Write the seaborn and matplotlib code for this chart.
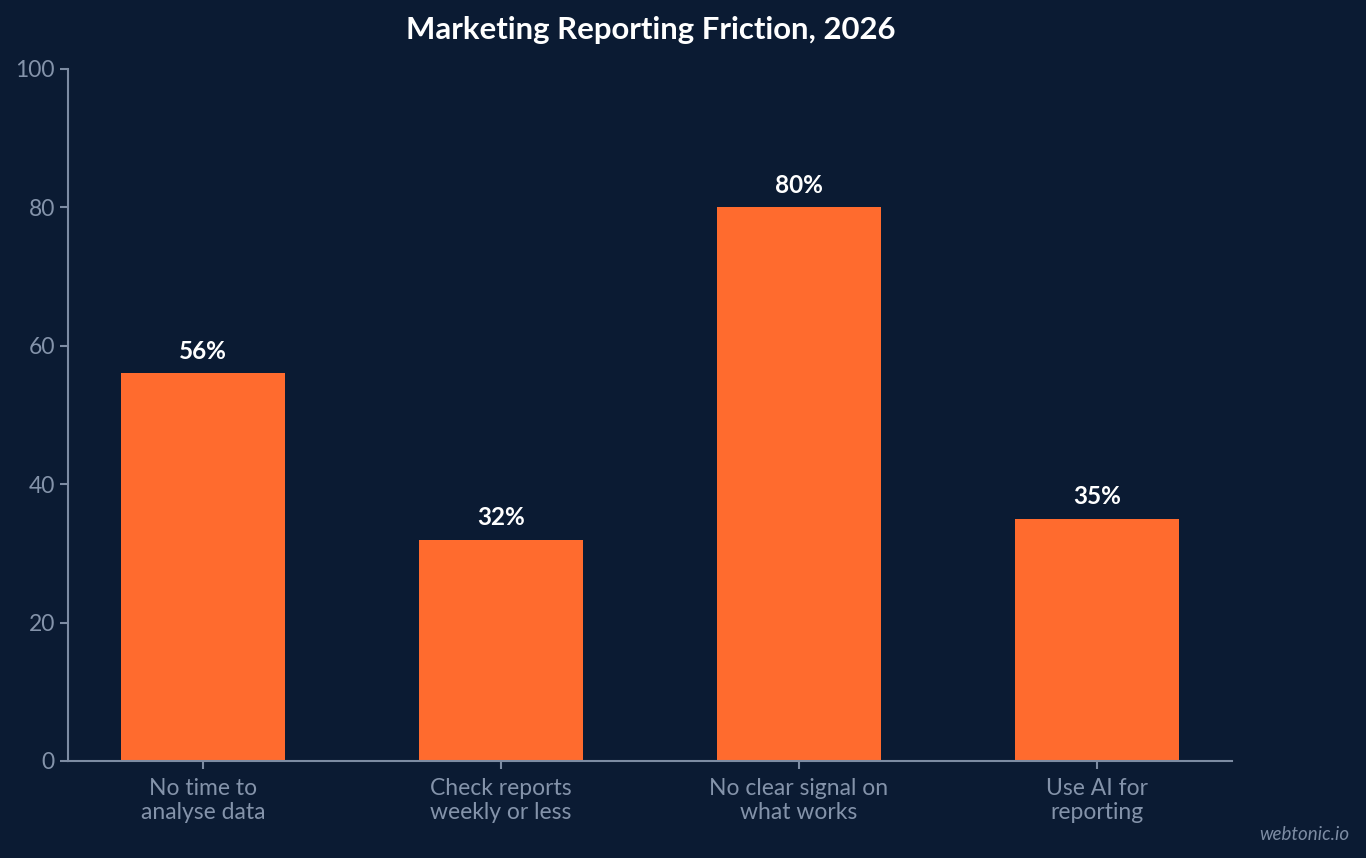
import pandas as pd
import seaborn as sns
import matplotlib.pyplot as plt

categories = ['No time to\nanalyse data', 'Check reports\nweekly or less',
              'No clear signal on\nwhat works', 'Use AI for\nreporting']
values = [56, 32, 80, 35]

df = pd.DataFrame({'Category': categories, 'Share': values})

bg = '#0b1b33'
axis_col = '#7d8ca3'
bar_col = '#ff6b2e'

sns.set_style('ticks')
plt.rcParams['font.family'] = ['Lato', 'DejaVu Sans']

fig = plt.figure(figsize=(13.66, 8.58), dpi=100, facecolor=bg)
ax = fig.add_axes([0.0498, 0.1131, 0.8521, 0.8065])
ax.set_facecolor(bg)

sns.barplot(data=df, x='Category', y='Share', color=bar_col, width=0.55,
            saturation=1, linewidth=0, ax=ax)

for i, v in enumerate(values):
    ax.text(i, v + 1.5, f'{v}%', ha='center', va='bottom', color='white',
            fontsize=17.5, fontweight='bold')

ax.set_xlim(-0.4525, 3.4525)
ax.set_ylim(0, 100)
ax.set_yticks([0, 20, 40, 60, 80, 100])
ax.set_xlabel('')
ax.set_ylabel('')
sns.despine(ax=ax)
for s in ['left', 'bottom']:
    ax.spines[s].set_color(axis_col)
    ax.spines[s].set_linewidth(1.5)
ax.tick_params(colors=axis_col, labelcolor='#8493aa', labelsize=16.5, width=1.5, length=6)
ax.tick_params(axis='x', pad=6)

fig.suptitle('Marketing Reporting Friction, 2026', color='white', fontsize=22.4,
             fontweight='bold', y=0.981, x=0.4765)
fig.text(0.988, 0.018, 'webtonic.io', color='#7d8ca3', fontsize=13.5,
         style='italic', ha='right', va='bottom')

fig.savefig('out.png', dpi=100, facecolor=bg)
